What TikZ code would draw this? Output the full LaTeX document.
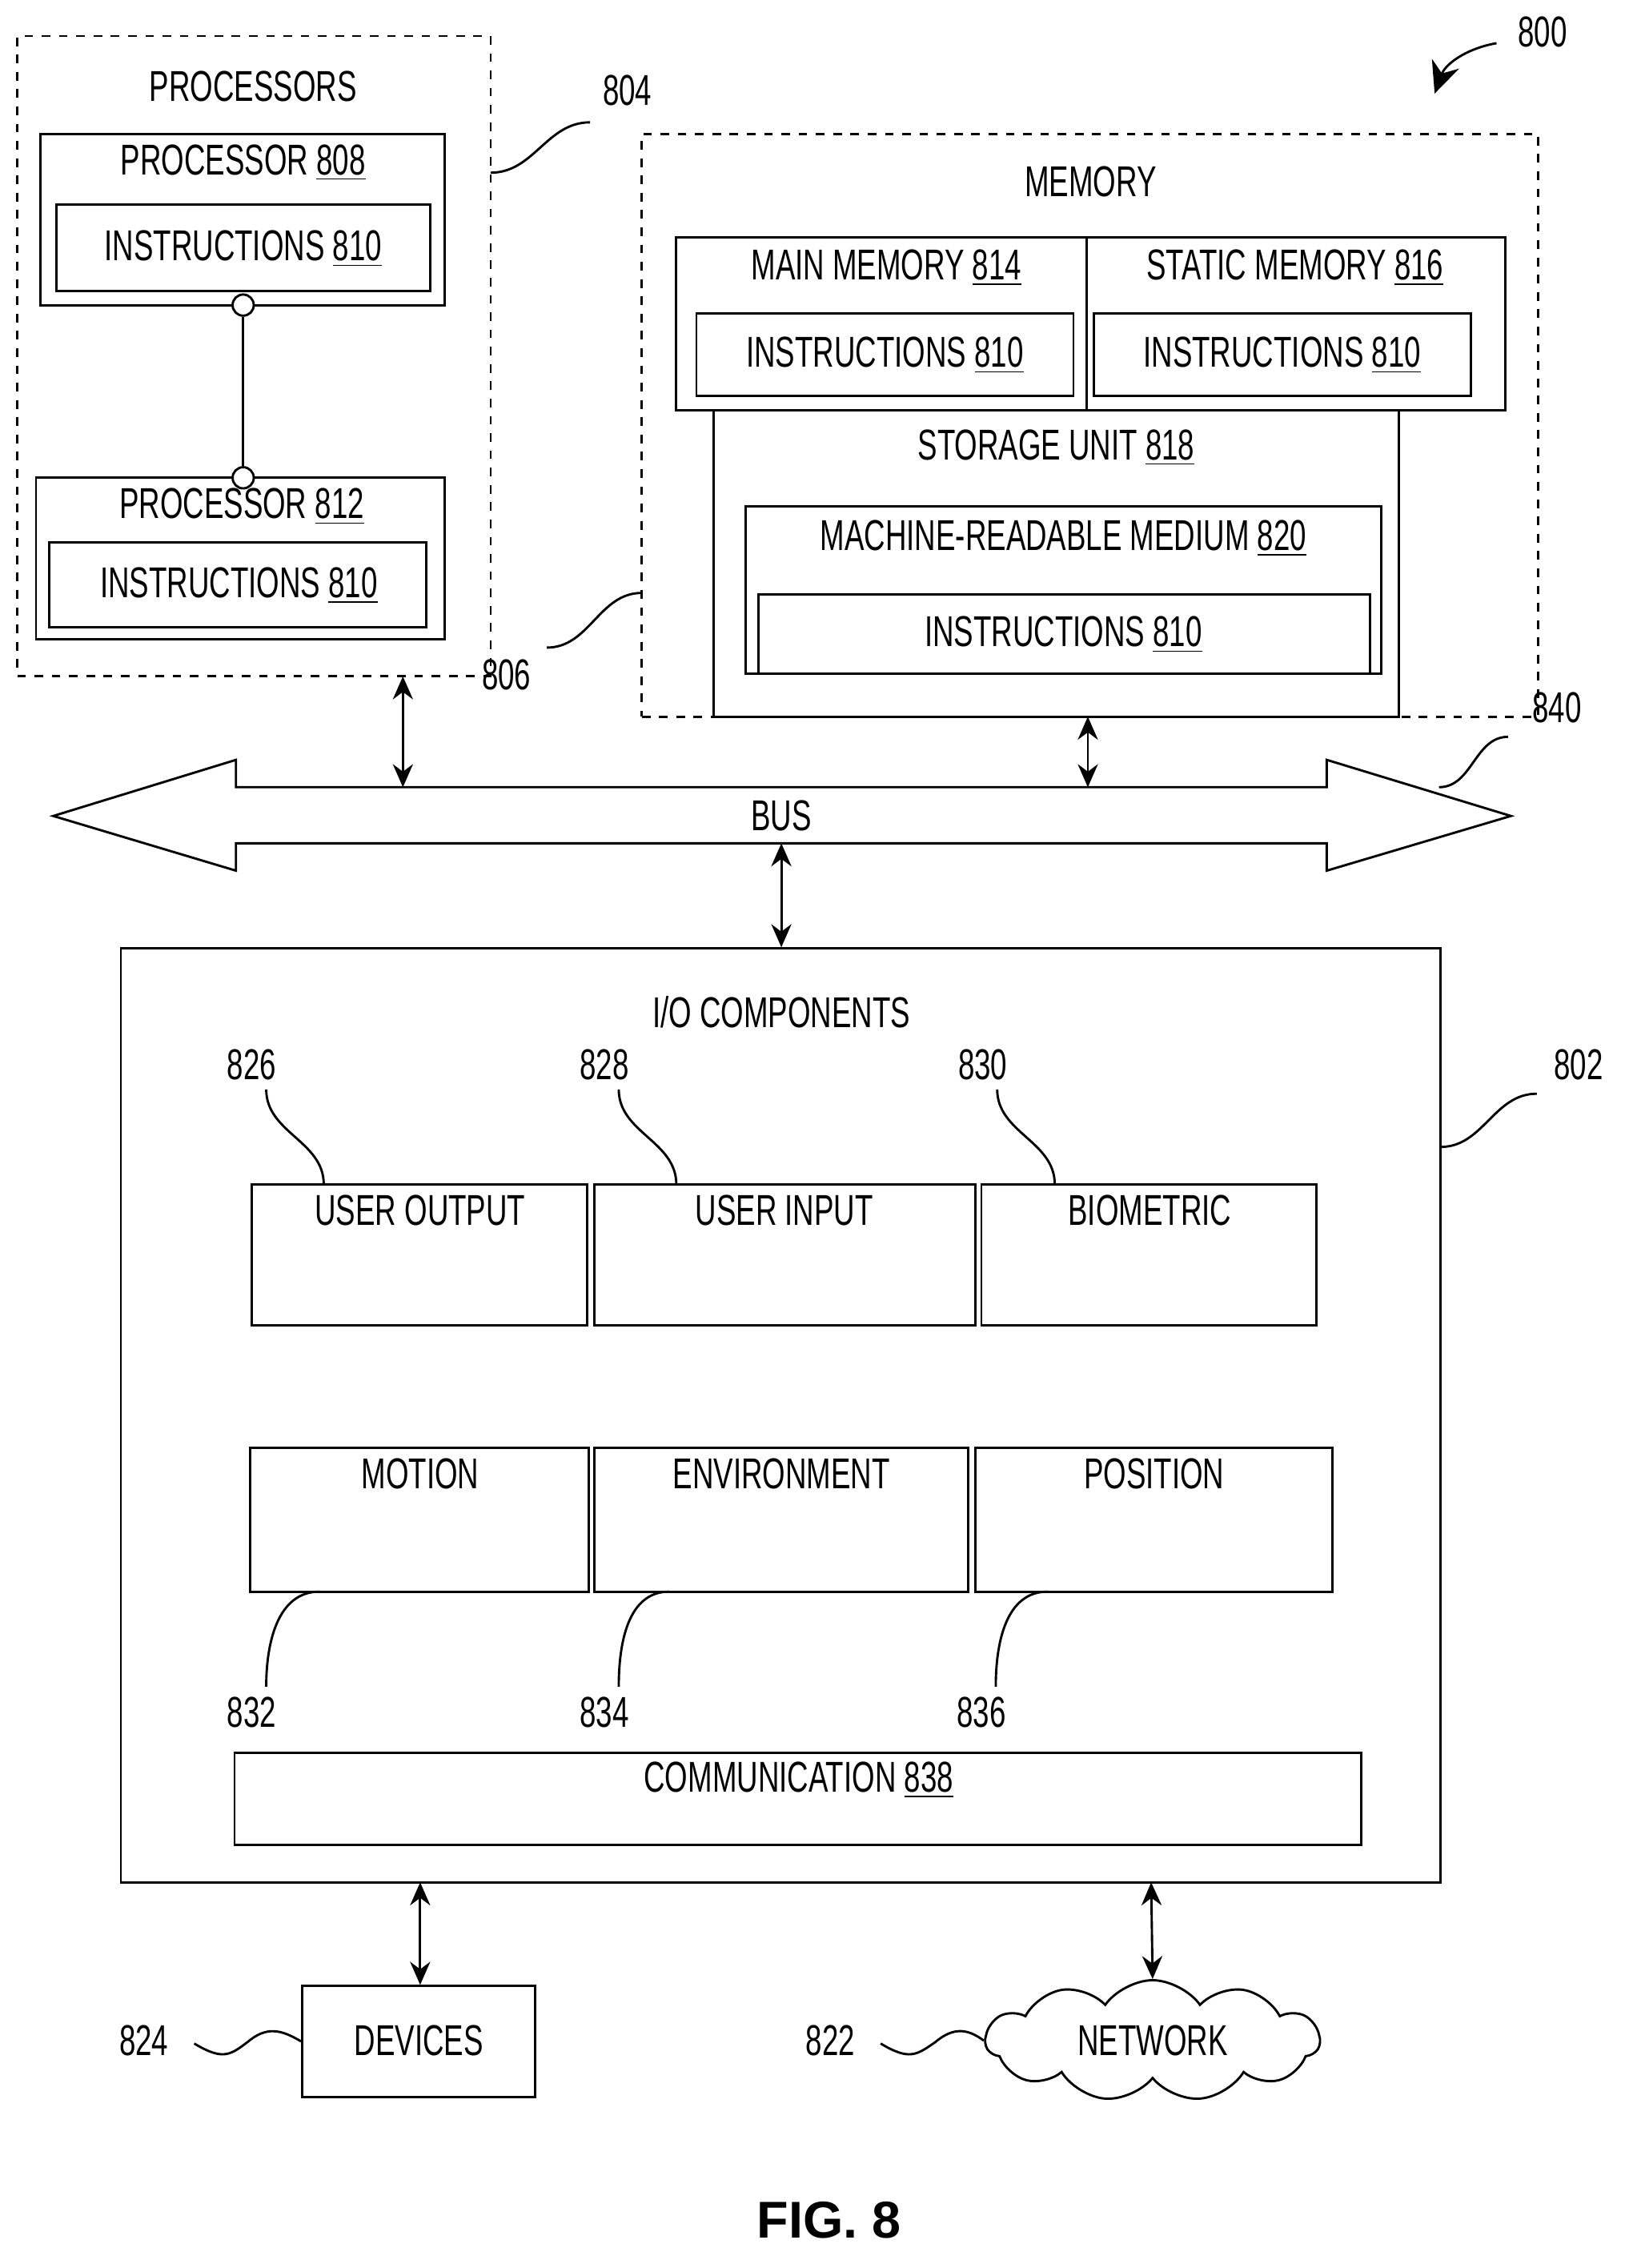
\documentclass[tikz,border=0pt]{standalone}
\usepackage{fontspec}
\setmainfont{Liberation Sans}[FakeStretch=0.68]
\newfontfamily\figfont{Liberation Sans}
\usetikzlibrary{arrows.meta,fit,shapes.symbols}
\newcommand\rn[1]{\underline{#1}}
\begin{document}
\begin{tikzpicture}[x=0.5pt,y=-0.5pt,
 box/.style={draw,thick,inner sep=0pt},
 dbox/.style={draw,thick,dashed,inner sep=0pt},
 txt/.style={font=\fontsize{15}{18}\selectfont,inner sep=1pt},
 ref/.style={font=\fontsize{15}{18}\selectfont,inner sep=1pt},
 sq/.style={thick},
 bi/.style={{Stealth[length=8pt,width=7pt]}-{Stealth[length=8pt,width=7pt]},thick}]
\useasboundingbox (0,0) rectangle (1132,1576);

% processors
\node[dbox,fit={(12,25)(341,470)}] (procs) {};
\node[txt] (procst) at (176,60) {PROCESSORS};
\node[box,fit={(28,93)(309,212)}] (p808) {};
\node[txt] (p808t) at (169,113) {PROCESSOR \rn{808}};
\node[box,fit={(39,142)(299,202)}] (i1) {};
\node[txt] (i1t) at (169,173) {INSTRUCTIONS \rn{810}};
\node[box,fit={(25,332)(309,444)}] (p812) {};
\node[txt] (p812t) at (168,352) {PROCESSOR \rn{812}};
\node[box,fit={(34,377)(296,436)}] (i2) {};
\node[txt] (i2t) at (166,407) {INSTRUCTIONS \rn{810}};
\node[draw,thick,circle,fill=white,inner sep=2.6pt] (c1) at (169,212) {};
\node[draw,thick,circle,fill=white,inner sep=2.6pt] (c2) at (169,332) {};
\draw[thick] (c1) -- (c2);

% memory
\node[dbox,fit={(446,93)(1069,498)}] (mem) {};
\node[txt] (memt) at (758,126) {MEMORY};
\node[box,fit={(470,165)(755,285)}] (mm) {};
\node[txt] (mmt) at (616,186) {MAIN MEMORY \rn{814}};
\node[box,fit={(484,218)(746,275)}] (i3) {};
\node[txt] (i3t) at (615,247) {INSTRUCTIONS \rn{810}};
\node[box,fit={(755,165)(1046,285)}] (sm) {};
\node[txt] (smt) at (900,186) {STATIC MEMORY \rn{816}};
\node[box,fit={(760,218)(1022,275)}] (i4) {};
\node[txt] (i4t) at (891,247) {INSTRUCTIONS \rn{810}};
\node[box,fit={(496,285)(972,498)}] (su) {};
\node[txt] (sut) at (734,311) {STORAGE UNIT \rn{818}};
\node[box,fit={(518,352)(960,468)}] (mr) {};
\node[txt] (mrt) at (739,374) {MACHINE-READABLE MEDIUM \rn{820}};
\node[box,fit={(527,413)(952,468)}] (i5) {};
\node[txt] (i5t) at (739,441) {INSTRUCTIONS \rn{810}};

% bus
\draw[thick,fill=white] (37,567) -- (164,528) -- (164,547) -- (922,547) -- (922,528)
 -- (1050,567) -- (922,605) -- (922,586) -- (164,586) -- (164,605) -- cycle;
\node[txt] (bus) at (543,567) {BUS};
\coordinate (b1) at (280,547);
\coordinate (b2) at (756,547);
\coordinate (b3) at (543,586);
\coordinate (pa) at (280,470);
\coordinate (ma) at (756,498);

% i/o components
\node[box,fit={(84,659)(1001,1308)}] (io) {};
\node[txt] (iot) at (543,703) {I/O COMPONENTS};
\node[box,fit={(175,823)(408,921)}] (uo) {};
\node[txt,anchor=north] (uot) at (292,828) {USER OUTPUT};
\node[box,fit={(413,823)(678,921)}] (ui) {};
\node[txt,anchor=north] (uit) at (545,828) {USER INPUT};
\node[box,fit={(682,823)(915,921)}] (bm) {};
\node[txt,anchor=north] (bmt) at (799,828) {BIOMETRIC};
\node[box,fit={(174,1006)(409,1106)}] (mo) {};
\node[txt,anchor=north] (mot) at (292,1011) {MOTION};
\node[box,fit={(413,1006)(673,1106)}] (en) {};
\node[txt,anchor=north] (ent) at (543,1011) {ENVIRONMENT};
\node[box,fit={(678,1006)(926,1106)}] (po) {};
\node[txt,anchor=north] (pot) at (802,1011) {POSITION};
\node[box,fit={(163,1218)(946,1282)}] (cm) {};
\node[txt] (cmt) at (555,1237) {COMMUNICATION \rn{838}};

% devices, network
\node[box,fit={(210,1380)(372,1457)}] (dev) {};
\node[txt] (devt) at (291,1418) {DEVICES};
\node[draw,thick,cloud,cloud puffs=11,cloud puff arc=110,aspect=2.8,
 minimum width=116pt,minimum height=42pt,txt] (net) at (801,1418) {NETWORK};
\draw[bi] (292,1308) -- (dev.north -| 292,0);
\draw[bi] (800,1308) -- (net.north);

\draw[bi] (pa) -- (b1);
\draw[bi] (ma) -- (b2);
\draw[bi] (b3) -- (io.north -| b3);

% reference numerals
\node[ref] (r800) at (1072,22) {800};
\node[ref] (r804) at (436,63) {804};
\node[ref] (r806) at (352,469) {806};
\node[ref] (r840) at (1082,492) {840};
\node[ref] (r802) at (1097,740) {802};
\node[ref] (r826) at (175,740) {826};
\node[ref] (r828) at (420,740) {828};
\node[ref] (r830) at (683,740) {830};
\node[ref] (r832) at (175,1190) {832};
\node[ref] (r834) at (420,1190) {834};
\node[ref] (r836) at (682,1190) {836};
\node[ref] (r824) at (100,1418) {824};
\node[ref] (r822) at (577,1418) {822};

\draw[-{Stealth[length=11pt,width=10pt]},thick] (1040,30) to[out=190,in=70] (997,65);
\draw[sq] (341,120) to[out=0,in=180] (410,85);
\draw[sq] (446,412) to[out=180,in=0] (380,450);
\draw[sq] (1000,547) to[out=0,in=180] (1048,512);
\draw[sq] (1001,797) to[out=0,in=180] (1068,760);
\draw[sq] (225,823) to[out=90,in=270] (185,757);
\draw[sq] (470,823) to[out=90,in=270] (430,757);
\draw[sq] (733,823) to[out=90,in=270] (693,757);
\draw[sq] (222,1106) to[out=180,in=90] (185,1172);
\draw[sq] (465,1106) to[out=180,in=90] (430,1172);
\draw[sq] (728,1106) to[out=180,in=90] (692,1172);
\draw[sq] (135,1420) .. controls (155,1432) and (160,1428) .. (172,1419)
 .. controls (185,1408) and (195,1410) .. (dev.west);
\draw[sq] (612,1420) .. controls (632,1432) and (637,1428) .. (650,1419)
 .. controls (663,1408) and (673,1410) .. (net.west);

\node[font=\figfont\fontsize{18}{20}\selectfont\bfseries] (fig) at (576,1543) {FIG. 8};
\end{tikzpicture}
\end{document}
